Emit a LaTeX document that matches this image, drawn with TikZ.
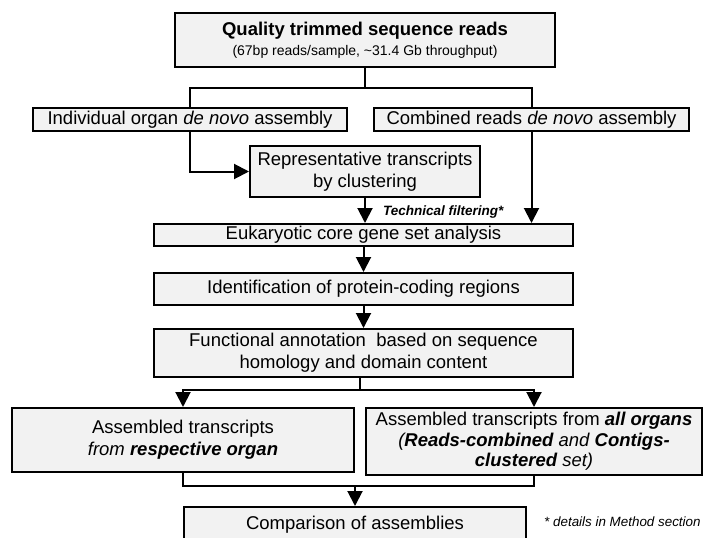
\documentclass[tikz,border=0pt]{standalone}
\usepackage{fontspec}
\setmainfont{Liberation Sans}
\usetikzlibrary{arrows.meta}
\definecolor{boxfill}{RGB}{242,242,242}
\tikzset{
  box/.style={draw=black, fill=boxfill, line width=2pt, inner sep=0pt, align=center,
    font=\fontsize{18.5}{22}\selectfont},
  conn/.style={line width=2pt},
  arr/.style={line width=2pt, -{Triangle[width=15pt,length=15pt]}},
}
\begin{document}
\begin{tikzpicture}[x=1pt,y=1pt]
\useasboundingbox (0,0) rectangle (704,-538);
% boxes
\node[box, minimum width=380pt, minimum height=54pt] (top) at (365,-40)
  {\textbf{Quality trimmed sequence reads}\\[-2pt]{\fontsize{14}{16}\selectfont (67bp reads/sample, \textasciitilde31.4 Gb throughput)}};
\node[box, minimum width=314pt, minimum height=23pt] (ind) at (190,-119.5)
  {Individual organ \textit{de novo} assembly};
\node[box, minimum width=315pt, minimum height=23pt] (comb) at (531.5,-119.5)
  {Combined reads \textit{de novo} assembly};
\node[box, minimum width=230pt, minimum height=51pt] (rep) at (365,-171.5)
  {Representative transcripts\\by clustering};
\node[box, minimum width=419pt, minimum height=22pt] (euk) at (363.5,-235)
  {Eukaryotic core gene set analysis};
\node[box, minimum width=419pt, minimum height=32pt] (ident) at (363.5,-289)
  {Identification of protein-coding regions};
\node[box, minimum width=419pt, minimum height=48pt] (funct) at (363.5,-353)
  {Functional annotation\ \ based on sequence\\homology and domain content};
\node[box, minimum width=342pt, minimum height=64pt] (left) at (183,-440)
  {Assembled transcripts\\\textit{from \textbf{respective organ}}};
\node[box, minimum width=336pt, minimum height=67pt, font=\fontsize{18.5}{20.5}\selectfont] (right) at (534,-441.5)
  {Assembled transcripts from \textbf{\textit{all organs}}\\\textit{(\textbf{Reads-combined} and \textbf{Contigs-}}\\\textit{\textbf{clustered} set)}};
\node[box, minimum width=342pt, minimum height=36pt, anchor=north] (comp) at (355,-506)
  {Comparison of assemblies};
% labels
\node[anchor=west, inner sep=0pt, font=\fontsize{13.5}{15}\selectfont\bfseries\itshape] (tf) at (383,-212)
  {Technical filtering*};
\node[anchor=west, inner sep=0pt, font=\fontsize{13.4}{15}\selectfont\itshape] (note) at (544,-522)
  {* details in Method section};
% connectors
\coordinate (j0) at (365,-88);
\coordinate (jl) at (ind.north |- j0);
\coordinate (jr) at (comb.north |- j0);
\draw[conn] (top.south) -- (j0);
\draw[conn] ([xshift=-1pt]jl) -- ([xshift=1pt]jr);
\draw[conn] (jl) -- (ind.north);
\draw[conn] (jr) -- (comb.north);
\draw[arr] (ind.south) |- (rep.west);
\draw[arr] (rep.south) -- (rep.south |- euk.north);
\draw[arr] (comb.south) -- (comb.south |- euk.north);
\draw[arr] (euk.south -| ident.north) -- (ident.north);
\draw[arr] (ident.south) -- (funct.north);
\coordinate (f0) at (360,-390);
\coordinate (fl) at (left.north |- f0);
\coordinate (fr) at (right.north |- f0);
\draw[conn] (funct.south -| f0) -- (f0);
\draw[conn] ([xshift=-1pt]fl) -- ([xshift=1pt]fr);
\draw[arr] (fl) -- (left.north);
\draw[arr] (fr) -- (right.north);
\coordinate (b0) at (355,-486);
\coordinate (bl) at (left.south |- b0);
\coordinate (br) at (right.south |- b0);
\draw[conn] (left.south) -- (bl);
\draw[conn] (right.south) -- (br);
\draw[conn] ([xshift=-1pt]bl) -- ([xshift=1pt]br);
\draw[arr] (b0) -- (comp.north);
\end{tikzpicture}
\end{document}
